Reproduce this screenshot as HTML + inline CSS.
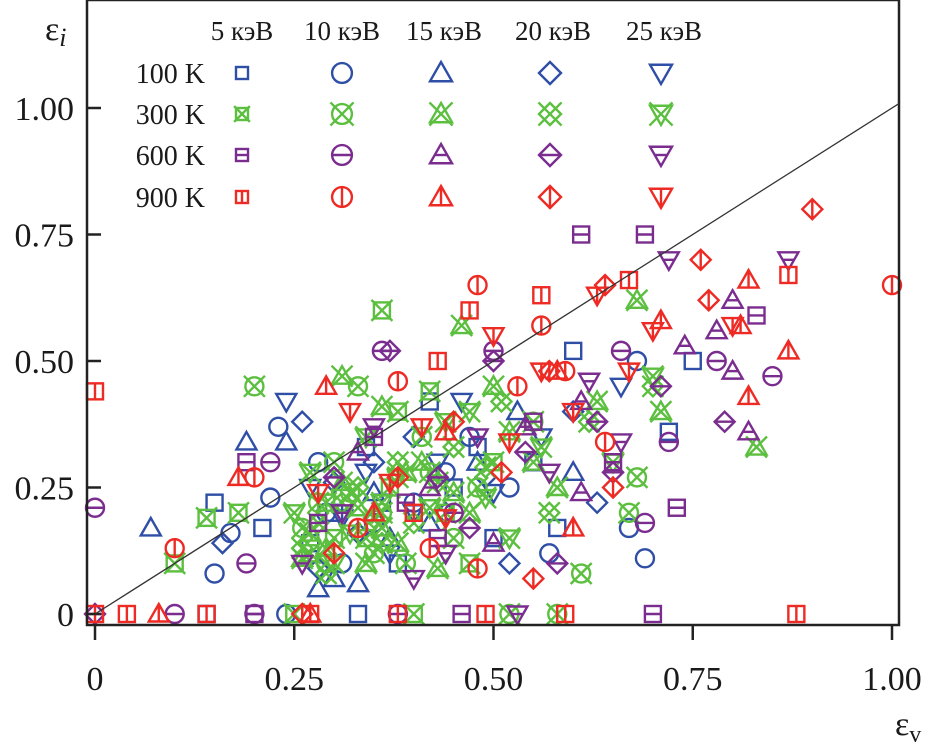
<!DOCTYPE html>
<html><head><meta charset="utf-8"><style>
html,body{margin:0;padding:0;background:#fff}
svg{display:block}
text{font-family:"Liberation Serif","DejaVu Serif",serif}
</style></head><body>
<svg id="chart" width="928" height="755" viewBox="0 0 928 755" xmlns="http://www.w3.org/2000/svg">
<g id="plot"></g>
</svg>
<script>
const xTicks=[0,0.25,0.5,0.75,1.0];
const xTickLabels=["0","0.25","0.50","0.75","1.00"];
const yTicks=[0,0.25,0.5,0.75,1.0];
const yTickLabels=["0","0.25","0.50","0.75","1.00"];
const energies=["5 кэВ","10 кэВ","15 кэВ","20 кэВ","25 кэВ"];
const temps=["100 K","300 K","600 K","900 K"];
const b100_5=[[0.15,0.22],[0.21,0.17],[0.34,0.33],[0.42,0.42],[0.5,0.15],[0.58,0.17],[0.6,0.52],[0.75,0.5],[0.72,0.36],[0.33,0],[0.14,0],[0.3,0.2],[0.45,0.25],[0.55,0.3],[0.38,0.1],[0.27,0.14],[0.36,0.22],[0.48,0.33]];
const b100_10=[[0.17,0.16],[0.15,0.08],[0.23,0.37],[0.28,0.3],[0.4,0.22],[0.52,0.25],[0.57,0.12],[0.67,0.17],[0.69,0.11],[0.68,0.5],[0.22,0.23],[0.35,0.18],[0.31,0.1],[0.47,0.35],[0.24,0],[0.29,0.2],[0.44,0.28]];
const b100_15=[[0.07,0.17],[0.19,0.34],[0.24,0.34],[0.3,0.07],[0.37,0.15],[0.53,0.4],[0.6,0.28],[0.48,0.3],[0.33,0.06],[0.28,0.05],[0.35,0.24],[0.42,0.18]];
const b100_20=[[0.16,0.14],[0.26,0.38],[0.28,0.09],[0.35,0.3],[0.44,0.2],[0.52,0.1],[0.6,0.4],[0.63,0.22],[0.4,0.35],[0.3,0.26],[0.33,0.16],[0.49,0.27]];
const b100_25=[[0.24,0.42],[0.27,0.25],[0.37,0.12],[0.43,0.3],[0.5,0.24],[0.56,0.35],[0.66,0.45],[0.31,0.19],[0.46,0.42],[0.34,0.28],[0.4,0.2]];
const g300_5=[[0.1,0.1],[0.14,0.19],[0.18,0.2],[0.36,0.6],[0.4,0],[0.42,0.44],[0.3,0.15],[0.27,0.12],[0.38,0.4],[0.5,0.3],[0.47,0.1],[0.34,0.15],[0.25,0],[0.29,0.22],[0.37,0.25],[0.44,0.2]];
const g300_10=[[0.2,0.45],[0.33,0.45],[0.41,0.35],[0.55,0.38],[0.68,0.27],[0.61,0.08],[0.67,0.2],[0.52,0],[0.28,0.22],[0.45,0.15],[0.3,0.3],[0.36,0.2],[0.58,0],[0.48,0.25],[0.39,0.1],[0.32,0.24],[0.26,0.17],[0.35,0.12],[0.42,0.28],[0.29,0.1]];
const g300_15=[[0.46,0.57],[0.68,0.62],[0.83,0.33],[0.31,0.47],[0.5,0.45],[0.36,0.41],[0.27,0.16],[0.55,0.3],[0.63,0.42],[0.71,0.4],[0.43,0.09],[0.29,0.13],[0.39,0.28],[0.47,0.2],[0.58,0.25],[0.33,0.21],[0.41,0.3],[0.26,0.11],[0.36,0.17],[0.31,0.26],[0.38,0.14],[0.45,0.24],[0.52,0.36],[0.34,0.1]];
const g300_20=[[0.4,0.18],[0.51,0.42],[0.62,0.38],[0.26,0.13],[0.33,0.25],[0.45,0.33],[0.57,0.2],[0.29,0.08],[0.36,0.14],[0.7,0.45],[0.31,0.22],[0.38,0.3],[0.43,0.26],[0.28,0.18],[0.35,0.19],[0.49,0.29]];
const g300_25=[[0.25,0.2],[0.3,0.1],[0.38,0.27],[0.44,0.38],[0.49,0.23],[0.56,0.33],[0.65,0.3],[0.7,0.47],[0.34,0.35],[0.52,0.15],[0.42,0.21],[0.32,0.16],[0.27,0.28],[0.36,0.22],[0.47,0.4]];
const p600_5=[[0.19,0.3],[0.2,0],[0.35,0.35],[0.46,0],[0.61,0.75],[0.69,0.75],[0.83,0.59],[0.73,0.21],[0.65,0.3],[0.7,0],[0.55,0.38],[0.43,0.15],[0.28,0.18],[0.39,0.22]];
const p600_10=[[0,0.21],[0.19,0.1],[0.22,0.3],[0.36,0.52],[0.5,0.52],[0.66,0.52],[0.78,0.5],[0.85,0.47],[0.72,0.34],[0.69,0.18],[0.1,0],[0.2,0],[0.45,0.2],[0.38,0]];
const p600_15=[[0.54,0.37],[0.61,0.42],[0.8,0.62],[0.74,0.53],[0.8,0.48],[0.78,0.56],[0.82,0.36],[0.5,0.14],[0.42,0.25],[0.33,0.32],[0.61,0.24]];
const p600_20=[[0,0],[0.37,0.52],[0.43,0.27],[0.5,0.5],[0.58,0.1],[0.63,0.38],[0.79,0.38],[0.71,0.45],[0.3,0.27],[0.47,0.17],[0.54,0.32],[0.65,0.28]];
const p600_25=[[0.26,0.1],[0.35,0.37],[0.4,0.07],[0.48,0.35],[0.57,0.28],[0.66,0.34],[0.72,0.7],[0.87,0.7],[0.62,0.46],[0.53,0],[0.31,0.2],[0.44,0.12]];
const r900_5=[[0,0.44],[0,0],[0.04,0],[0.14,0],[0.27,0],[0.38,0],[0.49,0],[0.59,0],[0.88,0],[0.47,0.6],[0.56,0.63],[0.67,0.66],[0.87,0.67],[0.43,0.5],[0.4,0.2]];
const r900_10=[[0.1,0.13],[0.2,0.27],[0.48,0.65],[0.38,0.46],[0.53,0.45],[0.56,0.57],[0.59,0.48],[1.0,0.65],[0.48,0.09],[0.33,0.17],[0.42,0.13],[0.64,0.34]];
const r900_15=[[0.08,0],[0.18,0.27],[0.27,0],[0.29,0.45],[0.44,0.36],[0.58,0.48],[0.71,0.58],[0.82,0.66],[0.87,0.52],[0.82,0.43],[0.81,0.57],[0.6,0.17],[0.35,0.2]];
const r900_20=[[0.26,0],[0.51,0.28],[0.55,0.07],[0.57,0.48],[0.64,0.65],[0.77,0.62],[0.76,0.7],[0.9,0.8],[0.65,0.25],[0.45,0.38],[0.38,0.27],[0.3,0.12]];
const r900_25=[[0.28,0.24],[0.32,0.4],[0.41,0.37],[0.5,0.55],[0.56,0.48],[0.63,0.63],[0.7,0.56],[0.8,0.57],[0.44,0.19],[0.52,0.34],[0.37,0.26],[0.6,0.4],[0.67,0.48]];

const seriesData=[[b100_5,b100_10,b100_15,b100_20,b100_25],[g300_5,g300_10,g300_15,g300_20,g300_25],[p600_5,p600_10,p600_15,p600_20,p600_25],[r900_5,r900_10,r900_15,r900_20,r900_25]];
const colors=["#2f4ea6","#5cbf3f","#7b2d8f","#ee2a24"];
const shapes=["square","circle","triangle","diamond","invtri"];
const decos=["none","x","h","v"];

const X0=95,X1=892,Y0=614,Y1=108;
const sx=v=>X0+(X1-X0)*v;
const sy=v=>Y0-(Y0-Y1)*v;
const NS="http://www.w3.org/2000/svg";
const svg=document.getElementById('chart');
const plot=document.getElementById('plot');
const FF='"Liberation Serif","DejaVu Serif",serif';
function el(tag,attrs,parent){const e=document.createElementNS(NS,tag);for(const k in attrs)e.setAttribute(k,attrs[k]);(parent||svg).appendChild(e);return e;}

function marker(parent,shape,deco,cx,cy,color,s){
  const g=el('g',{fill:'none',stroke:color,'stroke-width':2.4},parent);
  let top,bot,lw;
  if(shape==='square'){el('rect',{x:cx-s*0.8,y:cy-s*0.8,width:s*1.6,height:s*1.6},g);top=cy-s*0.8;bot=cy+s*0.8;lw=s*0.8;}
  else if(shape==='circle'){el('circle',{cx:cx,cy:cy,r:s*0.9},g);top=cy-s*0.9;bot=cy+s*0.9;lw=s*0.9;}
  else if(shape==='triangle'){el('polygon',{points:`${cx},${cy-s} ${cx+s},${cy+s*0.75} ${cx-s},${cy+s*0.75}`},g);top=cy-s;bot=cy+s*0.75;lw=s*0.55;}
  else if(shape==='diamond'){el('polygon',{points:`${cx},${cy-s} ${cx+s},${cy} ${cx},${cy+s} ${cx-s},${cy}`},g);top=cy-s;bot=cy+s;lw=s;}
  else {el('polygon',{points:`${cx-s},${cy-s*0.75} ${cx+s},${cy-s*0.75} ${cx},${cy+s}`},g);top=cy-s*0.75;bot=cy+s;lw=s*0.55;}
  if(deco==='x'){const d=s*1.05;el('line',{x1:cx-d,y1:cy-d,x2:cx+d,y2:cy+d},g);el('line',{x1:cx-d,y1:cy+d,x2:cx+d,y2:cy-d},g);}
  else if(deco==='h'){el('line',{x1:cx-lw,y1:cy,x2:cx+lw,y2:cy},g);}
  else if(deco==='v'){el('line',{x1:cx,y1:top,x2:cx,y2:bot},g);}
  return g;
}

const ax=el('path',{d:`M87,0 V625 H899 V0 H87`,fill:'none',stroke:'#222','stroke-width':2.5});


xTicks.forEach((v,i)=>{
  const t=el('line',{x1:sx(v),y1:625,x2:sx(v),y2:640,stroke:'#222','stroke-width':2.5});
  
  
  const l=el('text',{x:sx(v),y:690,'font-size':34,'font-family':FF,'text-anchor':'middle',fill:'#1a1a1a'});
  l.textContent=xTickLabels[i];
  
  
});
yTicks.forEach((v,i)=>{
  const t=el('line',{x1:87,y1:sy(v),x2:101,y2:sy(v),stroke:'#222','stroke-width':2.5});
  
  
  const l=el('text',{x:74,y:sy(v)+12,'font-size':34,'font-family':FF,'text-anchor':'end',fill:'#1a1a1a'});
  l.textContent=yTickLabels[i];
  
  
});
const yt=el('text',{x:45,y:40,'font-size':34,'font-family':FF,fill:'#1a1a1a'});
yt.innerHTML='ε<tspan font-style="italic" font-size="26" dy="6">i</tspan>';


const xt=el('text',{x:895,y:735,'font-size':34,'font-family':FF,fill:'#1a1a1a'});
xt.innerHTML='ε<tspan font-size="24" dy="7">v</tspan>';



const dl=el('line',{x1:sx(0),y1:sy(0),x2:899,y2:sy((899-X0)/(X1-X0)),stroke:'#333','stroke-width':1.3});



for(let ti=0;ti<4;ti++){
  for(let ei=0;ei<5;ei++){
    const grp=el('g',{},plot);
    
    
    seriesData[ti][ei].forEach(p=>{
      const m=marker(grp,shapes[ei],decos[ti],sx(p[0]),sy(p[1]),colors[ti],10);
      
      
    });
  }
}

const lg=el('g',{});


const colX=[242,342,441,550,661];
const hdrX=[242,342,444,553,664];
const rowY=[73,114,155,197];
energies.forEach((e,i)=>{
  const t=el('text',{x:hdrX[i],y:40,'font-size':27,'font-family':FF,'text-anchor':'middle',fill:'#1a1a1a'},lg);
  t.textContent=e;
  
  
});
temps.forEach((tn,ti)=>{
  const t=el('text',{x:205,y:rowY[ti]+10,'font-size':28,'font-family':FF,'text-anchor':'end',fill:'#1a1a1a'},lg);
  t.textContent=tn;
  
  
  for(let ei=0;ei<5;ei++){
    const m=marker(lg,shapes[ei],decos[ti],colX[ei],rowY[ti],colors[ti],ei===0?7.5:11);
    
    
  }
});
</script>
</body></html>
